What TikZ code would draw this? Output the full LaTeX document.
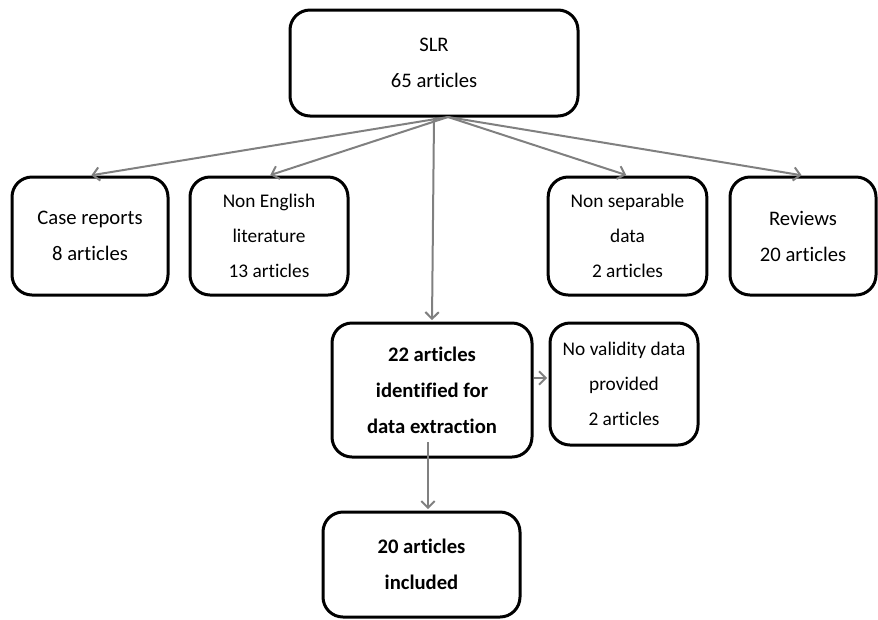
\documentclass[tikz,border=0pt]{standalone}
\usepackage{fontspec}
\setmainfont{Carlito}[Ligatures=NoCommon]
\usepackage{tikz}
\usetikzlibrary{arrows.meta, shapes, positioning}

\begin{document}
\begin{tikzpicture}[x=0.75pt, y=-0.75pt, ->,>={Straight Barb[length=5pt,width=10pt]}, shorten >=1pt,
 line width=1.5pt, draw=black!50]
 \tikzstyle{block} = [rectangle, rounded corners=15pt, draw=black, line width=2.25pt, align=center, inner sep=2pt, font=\fontsize{15.5}{27}\selectfont]
 \tikzstyle{small} = [block, font=\fontsize{14.5}{26}\selectfont]
 \useasboundingbox (0,0) rectangle (878,619);
   \node[block] (slr) at (434,63) [minimum width=216pt, minimum height=79.5pt] {SLR\\65 articles};
   \node[block] (case) at (90,236) [minimum width=117pt, minimum height=88.5pt] {Case reports\\8 articles};
   \node[small] (noneng) at (269,236) [minimum width=118.5pt, minimum height=88.5pt] {Non English\\literature\\13 articles};
   \node[small] (nonsep) at (627.5,236) [minimum width=119pt, minimum height=88.5pt] {Non separable\\data\\2 articles};
   \node[block] (reviews) at (803,236) [minimum width=109.5pt, minimum height=88.5pt] {Reviews\\20 articles};
   \node[block] (extract) at (432,390) [minimum width=150pt, minimum height=100.5pt, font=\fontsize{15.5}{27}\selectfont\bfseries] {22 articles\\identified for\\data extraction};
   \node[small] (novalid) at (624,384) [minimum width=111pt, minimum height=91.5pt] {No validity data\\provided\\2 articles};
   \node[block] (included) at (421.5,564.5) [minimum width=147.75pt, minimum height=78.75pt, font=\fontsize{15.5}{27}\selectfont\bfseries] {20 articles\\included};
 \coordinate (hub) at (448,117); %arrows to the side boxes all leave from this point
 \coordinate (exbot) at (428,442);

 \path[]
	(hub) edge (case.north)
	      edge (noneng.north)
	      edge (nonsep.north)
	      edge (reviews.north)
	(slr.south) edge (extract.north)
	([yshift=9pt]extract.east) edge ([yshift=9pt]novalid.west |- extract.east)
	(exbot) edge (exbot |- included.north);
\end{tikzpicture}
\end{document}
